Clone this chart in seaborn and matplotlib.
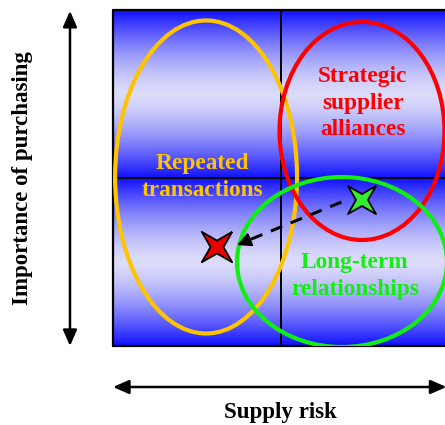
import numpy as np
import pandas as pd
import matplotlib
matplotlib.use("Agg")
import matplotlib.pyplot as plt
from matplotlib.patches import Ellipse
import seaborn as sns

# ---- data ----
ellipse_labels = ["Repeated\ntransactions", "Strategic\nsupplier\nalliances", "Long-term\nrelationships"]
ellipse_cx = [0.554, 1.482, 1.363]
ellipse_cy = [1.006, 1.280, 0.500]
ellipse_w = [1.083, 0.982, 1.250]
ellipse_h = [1.863, 1.298, 1.012]
label_x = [0.53, 1.488, 1.44]
label_y = [1.006, 1.446, 0.417]
ellipse_colors = ["#FFC400", "#FF0000", "#11EE11"]

star_names = ["current", "target"]
star_x = [0.619, 1.482]
star_y = [0.589, 0.869]
star_colors = ["#E60000", "#33EE33"]

arrow_from = (1.36, 0.857)
arrow_to = (0.738, 0.601)

x_axis_label = "Supply risk"
y_axis_label = "Importance of purchasing"

sns.set_theme(style="white")
plt.rcParams["font.family"] = ["Liberation Serif", "DejaVu Serif"]

fig = plt.figure(figsize=(4.45, 4.25), dpi=100)
ax = fig.add_axes([113 / 445, 79 / 425, 336 / 445, 336 / 425])
ax.set_xlim(0, 2)
ax.set_ylim(0, 2)
ax.set_axis_off()

# background gradient (blue edges, light centre in each row)
yy = np.linspace(0, 2, 400)
t = np.abs(((yy % 1.0) - 0.5) * 2.0) ** 1.5
blue = np.array([0.06, 0.06, 1.0])
light = np.array([0.86, 0.86, 0.98])
col = light[None, :] * (1 - t[:, None]) + blue[None, :] * t[:, None]
img = np.repeat(col[:, None, :], 2, axis=1)
ax.imshow(img, extent=(0, 2, 0, 2), origin="lower", aspect="auto", zorder=0)

# grid lines and frame
ax.plot([1, 1], [0, 2], color="black", lw=1.4, zorder=1)
ax.plot([0, 2], [1, 1], color="black", lw=1.4, zorder=1)
ax.plot([0, 0, 2, 2, 0], [0, 2, 2, 0, 0], color="black", lw=1.6, zorder=1, clip_on=False)

# ellipses and labels
for cx, cy, w, h, c, lab, lx, ly in zip(ellipse_cx, ellipse_cy, ellipse_w, ellipse_h,
                                       ellipse_colors, ellipse_labels, label_x, label_y):
    ax.add_patch(Ellipse((cx, cy), w, h, fill=False, edgecolor=c, lw=3.0, zorder=2))
    ax.text(lx, ly, lab, color=c, fontsize=16.8, fontweight="bold", ha="center", va="center",
            linespacing=1.33, zorder=3)

# dashed arrow
ax.plot([arrow_from[0], arrow_to[0] + 0.06], [arrow_from[1], arrow_to[1] + 0.025],
        color="black", lw=2.2, dashes=(4, 3), zorder=3)
ax.annotate("", xy=arrow_to, xytext=(arrow_to[0] + 0.08, arrow_to[1] + 0.033),
            arrowprops=dict(arrowstyle="-|>,head_length=0.7,head_width=0.35", color="black",
                            lw=1.5, shrinkA=0, shrinkB=0), zorder=3)

# four-pointed star marker (diagonal points, concave sides)
ang = np.deg2rad(np.arange(8) * 45 + 45)
rad = np.where(np.arange(8) % 2 == 0, 1.0, 0.3)
star_verts = np.column_stack([rad * np.cos(ang), rad * np.sin(ang)])
star_verts = np.vstack([star_verts, star_verts[:1]])

df = pd.DataFrame({"x": star_x, "y": star_y, "name": star_names})
sns.scatterplot(data=df, x="x", y="y", hue="name", palette=star_colors, marker=star_verts,
                s=[480, 410], edgecolor="black", linewidth=1.3, legend=False, ax=ax, zorder=4)

# axis arrows
ax.annotate("", xy=(-0.256, 1.995), xytext=(-0.256, 0.0), annotation_clip=False,
            arrowprops=dict(arrowstyle="<|-|>,head_length=0.8,head_width=0.35", color="black",
                            lw=1.8, shrinkA=0, shrinkB=0))
ax.annotate("", xy=(1.985, -0.244), xytext=(0.0, -0.244), annotation_clip=False,
            arrowprops=dict(arrowstyle="<|-|>,head_length=0.8,head_width=0.35", color="black",
                            lw=1.8, shrinkA=0, shrinkB=0))
ax.text(0.994, -0.393, x_axis_label, fontsize=16.5, fontweight="bold", ha="center", va="center",
        color="black", clip_on=False)
ax.text(-0.536, 1.0, y_axis_label, fontsize=16.5, fontweight="bold", ha="center", va="center",
        color="black", rotation=90, clip_on=False)

fig.savefig("out.png", dpi=100)
